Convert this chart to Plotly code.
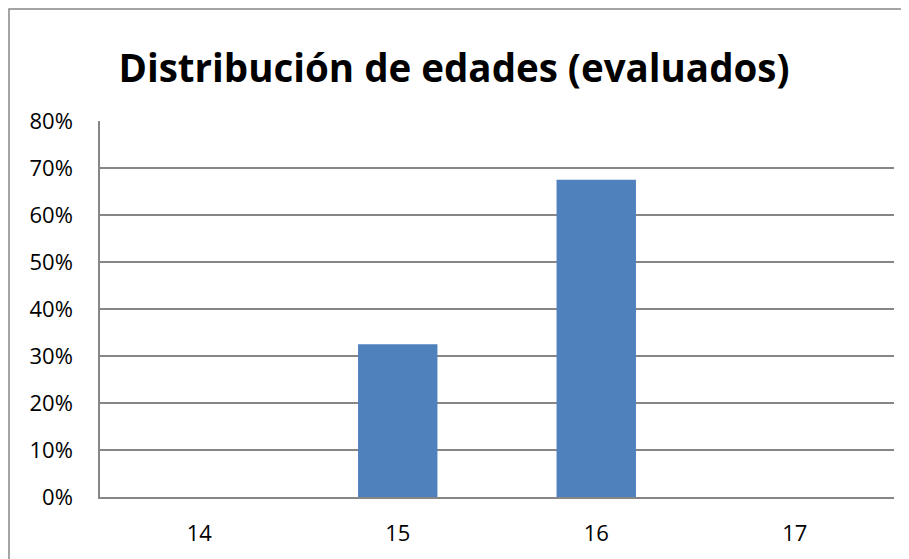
import plotly.graph_objects as go

categories = ["14", "15", "16", "17"]
values = [0.0, 0.325, 0.675, 0.0]
y_ticks = [0, 0.1, 0.2, 0.3, 0.4, 0.5, 0.6, 0.7, 0.8]
title_text = "Distribución de edades (evaluados)"

W, H = 901, 551
L, T, R, B = 92, 113, 15, 62
pw, ph = W - L - R, H - T - B

fig = go.Figure()
fig.add_trace(go.Bar(
    x=categories, y=values, width=0.4,
    marker=dict(color="#4F81BD", line=dict(width=0)),
))

fig.update_layout(
    width=W, height=H,
    margin=dict(l=L, r=R, t=T, b=B),
    paper_bgcolor="white", plot_bgcolor="white",
    showlegend=False,
    title=dict(text="<b>" + title_text + "</b>", x=446 / W, xanchor="center",
               y=1 - 61 / H, yanchor="middle",
               font=dict(family="Open Sans", size=38.5, color="black")),
    font=dict(family="Open Sans", size=22, color="black"),
)
fig.update_xaxes(type="category", showline=True, linecolor="#868686", linewidth=2,
                 ticks="", showgrid=False, tickfont=dict(size=22), ticklabelstandoff=16)
fig.update_yaxes(range=[0, 0.8], tickvals=y_ticks, tickformat=".0%",
                 showgrid=True, gridcolor="#868686", gridwidth=1.5,
                 showline=True, linecolor="#868686", linewidth=1.5,
                 ticks="", zeroline=False, tickfont=dict(size=22), ticklabelstandoff=21)

# chart-area border (extends beyond image on right and bottom)
fig.add_shape(type="rect", xref="paper", yref="paper",
              x0=(1 - L) / pw, x1=1.05, y0=-0.3, y1=(H - B - 1) / ph,
              line=dict(color="#868686", width=1.5), fillcolor="rgba(0,0,0,0)", layer="below")

fig.write_html("out.html")
